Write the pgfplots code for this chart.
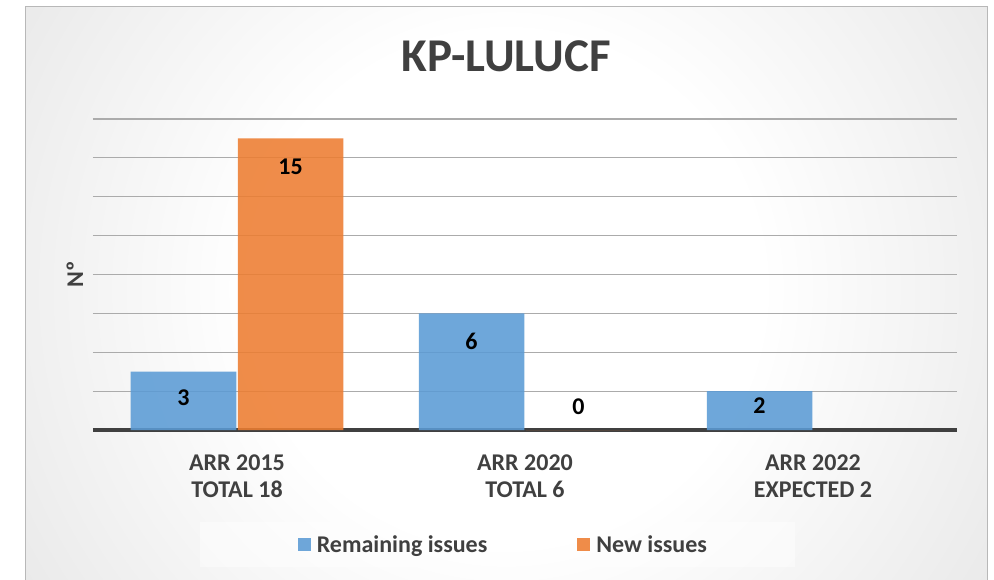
\documentclass[border=0pt]{standalone}
\usepackage{pgfplots}
\pgfplotsset{compat=1.18}
\usepackage{fontspec}
\setmainfont{Carlito}
\definecolor{txt}{HTML}{404040}
\definecolor{cblue}{HTML}{5B9BD5}
\definecolor{corange}{HTML}{ED7D31}
\pgfdeclareradialshading{bgshade}{\pgfpoint{0bp}{0bp}}{color(0bp)=(white); color(11bp)=(white); color(48bp)=(black!23); color(60bp)=(black!27)}
\begin{document}
\begin{tikzpicture}
\begin{axis}[
  set layers, clip=false,
  scale only axis,
  width=864pt, height=311pt,
  ybar=1.5pt, bar width=105.5pt,
  xmin=-0.5, xmax=2.5, ymin=0, ymax=16,
  xtick={0,1,2},
  xticklabels={{ARR 2015\\TOTAL 18},{ARR 2020\\TOTAL 6},{ARR 2022\\EXPECTED 2}},
  ytick={2,4,...,16}, yticklabels={},
  extra y ticks={0}, extra y tick labels={},
  extra y tick style={grid style={line width=3.5pt, color=black!75}},
  major tick length=0pt,
  ymajorgrids, grid style={black!33, line width=1.2pt},
  axis line style={draw=none},
  /pgf/number format/assume math mode=true,
  xticklabel style={font=\bfseries\fontsize{24}{27.5}\selectfont, text=txt, align=center, yshift=-21pt},
  title={KP-LULUCF},
  title style={at={(0.478,1.184)}, anchor=center, font=\bfseries\fontsize{47}{52}\selectfont, text=txt},
  ylabel={Nº},
  ylabel style={at={(-0.021,0.5)}, anchor=center, font=\bfseries\fontsize{24}{28}\selectfont, text=txt},
  legend style={at={(0.475,-0.368)}, anchor=center, draw=none, fill=none,
    legend columns=2, font=\bfseries\fontsize{24}{28}\selectfont, text=txt,
    /tikz/every odd column/.append style={column sep=4pt},
    /tikz/every even column/.append style={column sep=88pt}},
  legend cell align=left,
  legend image code/.code={\fill[#1] (0pt,-6.5pt) rectangle (13pt,6.5pt);},
  nodes near coords,
  visualization depends on={\thisrow{off} \as \off},
  every node near coord/.append style={anchor=center, yshift=\off pt,
    font=\bfseries\fontsize{24}{28}\selectfont, text=black, text opacity=1},
]
\begin{pgfonlayer}{axis background}
\coordinate (bbll) at (rel axis cs:-0.10764,-0.47910);
\coordinate (bbur) at (rel axis cs:1.04282,1.38264);
\fill[white] (bbll) rectangle (bbur);
\begin{scope}
\clip (rel axis cs:-0.07755,-0.4952) rectangle (rel axis cs:1.03472,1.36334);
\shade[shading=bgshade] (rel axis cs:-0.19329,-1.41157) rectangle (rel axis cs:1.14931,2.31833);
\end{scope}
\draw[black!28, line width=1pt] (rel axis cs:-0.07755,-0.4952) rectangle (rel axis cs:1.03472,1.36334);
\fill[white, opacity=0.45] (rel axis cs:0.12384,-0.29582) rectangle (rel axis cs:0.8125,-0.44051);
\end{pgfonlayer}
\addplot[fill=cblue, fill opacity=0.88, draw=none] table {
x y off
0 3 -26
1 6 -28
2 2 -14
};
\addlegendentry{Remaining issues}
\addplot[fill=corange, fill opacity=0.88, draw=none] table {
x y off
0 15 -28
1 0 23
};
\addlegendentry{New issues}
\end{axis}
\pgfresetboundingbox
\path[use as bounding box] (bbll) rectangle (bbur);
\end{tikzpicture}
\end{document}
